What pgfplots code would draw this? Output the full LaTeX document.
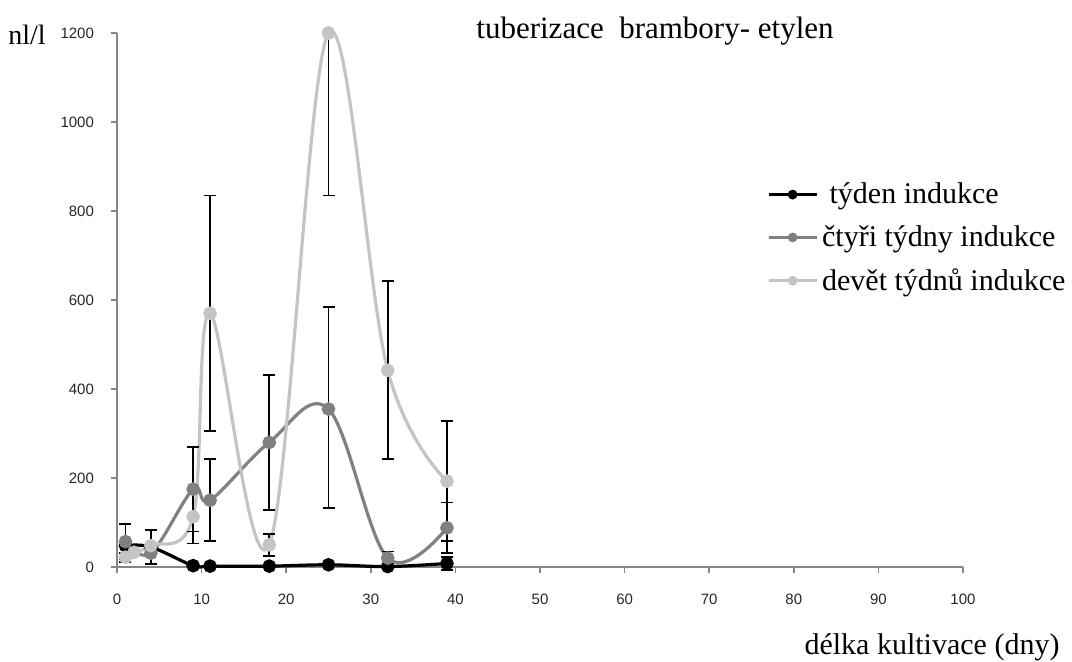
\documentclass[border=0pt]{standalone}
\usepackage{fontspec}
\setmainfont{Liberation Serif}
\newfontfamily\ticksfont{Liberation Sans}
\usepackage{pgfplots}
\pgfplotsset{compat=1.18}
\definecolor{dgray}{RGB}{128,128,128}
\definecolor{lgray}{RGB}{196,196,196}
\definecolor{axgray}{RGB}{134,134,134}
\pgfplotsset{
  ebar/.style={forget plot, draw=none, mark=none,
    error bars/.cd, y dir=both, y explicit,
    error bar style={draw=black, line width=0.9pt},
    error mark options={rotate=90, draw=black, mark size=3pt, line width=0.9pt}},
}
\begin{document}
\begin{tikzpicture}
\path[use as bounding box] (0,0) rectangle (536pt,330.5pt);
\begin{axis}[
  at={(58.5pt,47pt)}, anchor=south west, scale only axis,
  width=423pt, height=267pt,
  xmin=0, xmax=100, ymin=0, ymax=1200,
  clip=false,
  axis x line*=bottom, axis y line*=left,
  axis line style={axgray, line width=0.8pt, -},
  xtick={0,10,...,100}, ytick={0,200,...,1200},
  tick align=outside, major tick length=3pt,
  tick style={axgray, line width=0.8pt},
  tick label style={font=\ticksfont\fontsize{7.5}{9}\selectfont, text=black!85},
  /pgf/number format/assume math mode=true,
  /pgf/number format/1000 sep={},
  xticklabel style={yshift=-7pt},
  yticklabel style={xshift=-5pt},
  legend style={at={(0.768,0.728)}, anchor=north west, draw=none, fill=none,
    font=\fontsize{15}{17}\selectfont, row sep=5.5pt, inner sep=0pt},
  legend cell align=left,
  legend image code/.code={\draw[#1, mark size=1.6pt, mark repeat=2, mark phase=2] plot coordinates {(0cm,0cm)(0.42cm,0cm)(0.84cm,0cm)};},
  every axis plot/.append style={smooth, tension=0.6},
]
% series
\addplot[black, line width=1.6pt, mark=*, mark size=2.6pt]
 coordinates {(1,48) (4,45) (9,3) (11,2) (18,2) (25,5) (32,1) (39,8)};
\addlegendentry{\ týden indukce}
\addplot[dgray, line width=1.6pt, mark=*, mark size=2.6pt]
 coordinates {(1,57) (4,31) (9,175) (11,150) (18,280) (25,355) (32,20) (39,88)};
\addlegendentry{čtyři týdny indukce}
\addplot[lgray, line width=1.6pt, mark=*, mark size=2.6pt]
 coordinates {(1,22) (2,33) (4,48) (9,113) (11,570) (18,50) (25,1200) (32,442) (39,193)};
\addlegendentry{devět týdnů indukce}
% error bars
\addplot[ebar]
 coordinates {(4,45) +- (0,38) (39,8) +- (0,14)};
\addplot[ebar]
 coordinates {(1,57) +- (0,40) (9,175) +- (0,95) (11,150) +- (0,92) (18,280) +- (0,152)
   (25,355) += (0,230) -= (0,223) (32,20) +- (0,15) (39,88) +- (0,57)};
\addplot[ebar]
 coordinates {(1,22) +- (0,10) (9,113) +- (0,60) (11,570) +- (0,265) (18,50) +- (0,25)
   (25,1200) += (0,0) -= (0,365) (32,442) +- (0,200) (39,193) +- (0,135)};
\end{axis}
\node[font=\fontsize{14}{16}\selectfont] at (13.5pt,313pt) {nl/l};
\node[font=\fontsize{15.5}{17}\selectfont] at (327.5pt,315pt) {tuberizace\ \ brambory- etylen};
\node[font=\fontsize{15}{17}\selectfont] at (466pt,7pt) {délka kultivace (dny)};
\end{tikzpicture}
\end{document}
